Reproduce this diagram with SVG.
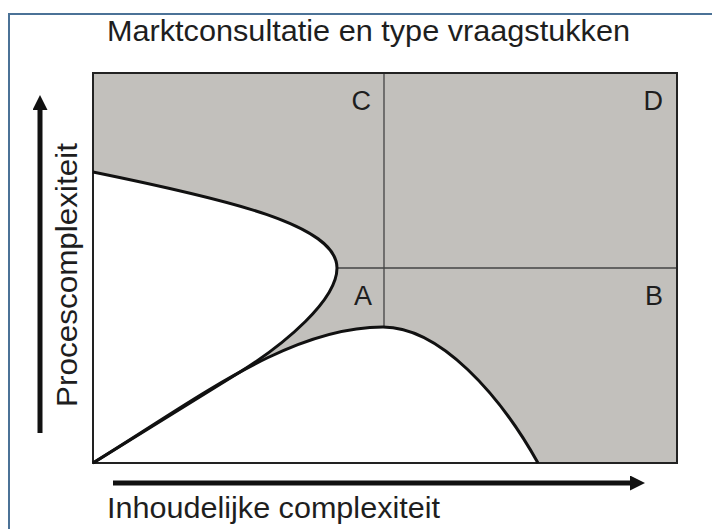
<svg xmlns="http://www.w3.org/2000/svg" width="712" height="529" viewBox="0 0 712 529">
<style>
text{font-family:"Liberation Sans",Arial,sans-serif;fill:#1e1e1e}
.t{font-size:29px}
.q{font-size:27px}
.curve{fill:none;stroke:#111;stroke-width:3}
.div{stroke:#444;stroke-width:1.3;fill:none}
.axis{stroke:#111;stroke-width:5;fill:none}
</style>
<defs>
<marker id="ah" viewBox="0 0 10 10" refX="2" refY="5" markerWidth="3.4" markerHeight="3" orient="auto" markerUnits="strokeWidth">
<path d="M0,0 L10,5 L0,10 Z" fill="#111"/>
</marker>
</defs>
<rect width="712" height="529" fill="#fff"/>
<path d="M9,529 V14 H712" fill="none" stroke="#4b7297" stroke-width="2"/>
<text class="t" x="107" y="41" textLength="523" lengthAdjust="spacingAndGlyphs">Marktconsultatie en type vraagstukken</text>
<g id="field">
<rect x="93" y="73" width="584" height="390" fill="#c2c0bc" stroke="#222" stroke-width="2"/>
<path d="M93,172 C230,200 337,225 337,268 C337,300 285,344 240,372 L93,463 Z" fill="#fff"/>
<path d="M93,463 C200,397 290,327 383,327 C440,327 500,395 538,463 Z" fill="#fff"/>
<path class="div" d="M384,73 V327 M337,268 H677"/>
<rect x="93" y="73" width="584" height="390" fill="none" stroke="#222" stroke-width="2"/>
</g>
<g id="curves">
<path class="curve" d="M93,172 C230,200 337,225 337,268 C337,300 285,344 240,372 L93,463"/>
<path class="curve" d="M93,463 C200,397 290,327 383,327 C440,327 500,395 538,463"/>
</g>
<g id="labels">
<text class="q" x="371" y="110" text-anchor="end">C</text>
<text class="q" x="663" y="110" text-anchor="end">D</text>
<text class="q" x="372" y="305" text-anchor="end">A</text>
<text class="q" x="663" y="305" text-anchor="end">B</text>
</g>
<g id="axes">
<line class="axis" x1="40" y1="433" x2="40" y2="107" marker-end="url(#ah)"/>
<line class="axis" x1="113" y1="483" x2="633" y2="483" marker-end="url(#ah)"/>
<text class="t" transform="translate(77,407) rotate(-90)" textLength="264" lengthAdjust="spacingAndGlyphs">Procescomplexiteit</text>
<text class="t" x="107" y="518" textLength="333" lengthAdjust="spacingAndGlyphs">Inhoudelijke complexiteit</text>
</g>
</svg>
